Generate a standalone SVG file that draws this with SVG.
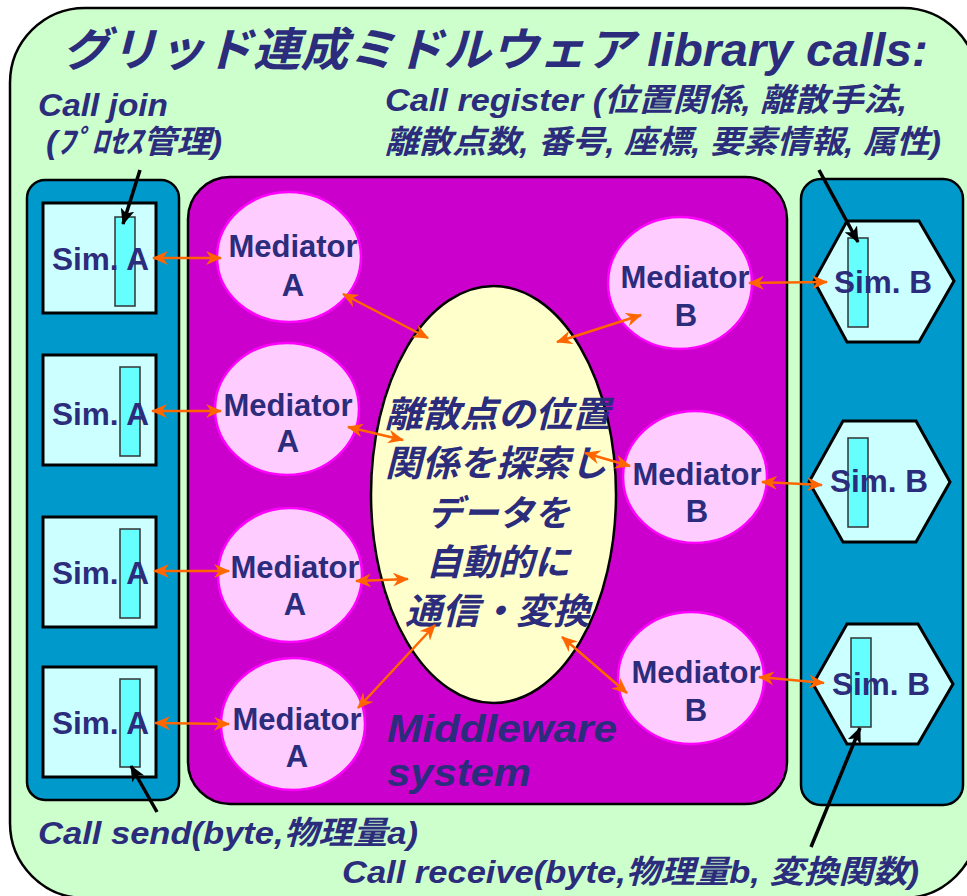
<svg xmlns="http://www.w3.org/2000/svg" width="967" height="896" viewBox="0 0 967 896">
<style>
.t{fill:#2C2C7C;font-family:"Liberation Sans","Noto Sans CJK JP",sans-serif;font-weight:bold}
.i{font-style:italic}
.sim{fill:#CCFFFF;stroke:#000;stroke-width:3}
.bar{fill:#66FFFF;stroke:#333;stroke-width:1.5}
.panel{fill:#0099CC;stroke:#000;stroke-width:2.5}
.med{fill:#FFCCFF;stroke:#FF00FF;stroke-width:2.5}
.oa{stroke:#FF6600;stroke-width:2.5;fill:none;marker-start:url(#oah);marker-end:url(#oah)}
.ba{stroke:#000;stroke-width:3.5;fill:none;marker-end:url(#bah)}
.m{font-size:31px;text-anchor:middle}
.s{font-size:31px}
.c{font-size:32px}
.j{font-size:36px}
</style>
<defs>
<marker id="oah" viewBox="0 0 16 14" refX="15" refY="7" markerWidth="16" markerHeight="14" markerUnits="userSpaceOnUse" orient="auto-start-reverse"><path d="M0,0 L16,7 L0,14 L5,7 z" fill="#FF6600"/></marker>
<marker id="bah" viewBox="0 0 16 14" refX="15" refY="7" markerWidth="16" markerHeight="14" markerUnits="userSpaceOnUse" orient="auto"><path d="M0,0 L16,7 L0,14 L4,7 z" fill="#000"/></marker>
</defs>
<g id="background">
<rect x="10" y="8" width="968" height="890" rx="75" fill="#CCFFCC" stroke="#000" stroke-width="2.5"/>
<text class="t i" x="62" y="66" font-size="46" textLength="866" lengthAdjust="spacingAndGlyphs">グリッド連成ミドルウェア library calls:</text>
</g>
<g id="labels">
<text class="t i c" x="38" y="116" textLength="130" lengthAdjust="spacingAndGlyphs">Call join</text>
<text class="t i c" x="46" y="153" textLength="176" lengthAdjust="spacingAndGlyphs">(ﾌﾟﾛｾｽ管理)</text>
<text class="t i c" x="385" y="111" textLength="522" lengthAdjust="spacingAndGlyphs">Call register (位置関係, 離散手法,</text>
<text class="t i c" x="385" y="153" textLength="556" lengthAdjust="spacingAndGlyphs">離散点数, 番号, 座標, 要素情報, 属性)</text>
<text class="t i c" x="38" y="844" textLength="380" lengthAdjust="spacingAndGlyphs">Call send(byte,物理量a)</text>
<text class="t i c" x="342" y="883" textLength="577" lengthAdjust="spacingAndGlyphs">Call receive(byte,物理量b, 変換関数)</text>
</g>
<g id="panel-a">
<rect class="panel" x="27" y="180" width="152" height="620" rx="18"/>
</g>
<g id="sim-a1"><rect class="sim" x="43" y="203" width="113" height="110"/><rect class="bar" x="115" y="217" width="20" height="89"/><text class="t s" x="52" y="270" textLength="97" lengthAdjust="spacingAndGlyphs">Sim. A</text></g>
<g id="sim-a2"><rect class="sim" x="43" y="355" width="113" height="110"/><rect class="bar" x="120" y="367" width="20" height="89"/><text class="t s" x="52" y="425" textLength="97" lengthAdjust="spacingAndGlyphs">Sim. A</text></g>
<g id="sim-a3"><rect class="sim" x="43" y="517" width="113" height="110"/><rect class="bar" x="120" y="529" width="20" height="89"/><text class="t s" x="52" y="584" textLength="97" lengthAdjust="spacingAndGlyphs">Sim. A</text></g>
<g id="sim-a4"><rect class="sim" x="43" y="667" width="113" height="110"/><rect class="bar" x="120" y="679" width="20" height="88"/><text class="t s" x="52" y="734" textLength="97" lengthAdjust="spacingAndGlyphs">Sim. A</text></g>
<g id="panel-b">
<rect class="panel" x="801" y="179" width="162" height="626" rx="20"/>
</g>
<g id="sim-b1"><polygon class="sim" points="847,221 919,221 954,281 919,342 847,342 814,281"/><rect class="bar" x="848" y="238" width="20" height="89"/><text class="t s" x="834" y="293" textLength="98" lengthAdjust="spacingAndGlyphs">Sim. B</text></g>
<g id="sim-b2"><polygon class="sim" points="843,421 916,421 950,482 916,542 843,542 809,482"/><rect class="bar" x="848" y="438" width="20" height="89"/><text class="t s" x="830" y="492" textLength="98" lengthAdjust="spacingAndGlyphs">Sim. B</text></g>
<g id="sim-b3"><polygon class="sim" points="847,624 918,624 953,684 918,744 847,744 813,684"/><rect class="bar" x="851" y="638" width="20" height="89"/><text class="t s" x="832" y="695" textLength="98" lengthAdjust="spacingAndGlyphs">Sim. B</text></g>
<g id="middleware">
<rect x="188" y="177" width="599" height="627" rx="42" fill="#CC00CC" stroke="#000" stroke-width="2.5"/>
<text class="t i" x="387" y="742" font-size="38" textLength="230" lengthAdjust="spacingAndGlyphs">Middleware</text>
<text class="t i" x="387" y="786" font-size="38" textLength="144" lengthAdjust="spacingAndGlyphs">system</text>
</g>
<g id="med-a1"><ellipse class="med" cx="289" cy="257" rx="72" ry="65"/><text class="t m" x="293" y="257">Mediator</text><text class="t m" x="293" y="296">A</text></g>
<g id="med-a2"><ellipse class="med" cx="287" cy="409" rx="72" ry="66"/><text class="t m" x="288" y="416">Mediator</text><text class="t m" x="288" y="452">A</text></g>
<g id="med-a3"><ellipse class="med" cx="290" cy="575" rx="72" ry="67"/><text class="t m" x="295" y="578">Mediator</text><text class="t m" x="295" y="615">A</text></g>
<g id="med-a4"><ellipse class="med" cx="293" cy="724" rx="72" ry="66"/><text class="t m" x="297" y="730">Mediator</text><text class="t m" x="297" y="767">A</text></g>
<g id="med-b1"><ellipse class="med" cx="680" cy="283" rx="72" ry="66"/><text class="t m" x="685" y="288">Mediator</text><text class="t m" x="686" y="326">B</text></g>
<g id="med-b2"><ellipse class="med" cx="695" cy="477" rx="72" ry="66"/><text class="t m" x="697" y="485">Mediator</text><text class="t m" x="697" y="522">B</text></g>
<g id="med-b3"><ellipse class="med" cx="691" cy="678" rx="73" ry="66"/><text class="t m" x="696" y="683">Mediator</text><text class="t m" x="696" y="721">B</text></g>
<g id="core">
<ellipse cx="493.5" cy="494.5" rx="122.5" ry="208.5" fill="#FFFFCC" stroke="#000" stroke-width="2.5"/>
<text class="t i j" x="385" y="427" textLength="225" lengthAdjust="spacingAndGlyphs">離散点の位置</text>
<text class="t i j" x="385" y="476" textLength="222" lengthAdjust="spacingAndGlyphs">関係を探索し</text>
<text class="t i j" x="427" y="526" textLength="143" lengthAdjust="spacingAndGlyphs">データを</text>
<text class="t i j" x="426" y="575" textLength="144" lengthAdjust="spacingAndGlyphs">自動的に</text>
<text class="t i j" x="405" y="624" textLength="185" lengthAdjust="spacingAndGlyphs">通信・変換</text>
</g>
<g id="connectors">
<line class="oa" x1="153" y1="258" x2="221" y2="258"/>
<line class="oa" x1="343" y1="294" x2="428" y2="338"/>
<line class="oa" x1="152" y1="411" x2="221" y2="411"/>
<line class="oa" x1="348" y1="427" x2="403" y2="440"/>
<line class="oa" x1="154" y1="571" x2="229" y2="571"/>
<line class="oa" x1="356" y1="581" x2="408" y2="579"/>
<line class="oa" x1="155" y1="723" x2="229" y2="724"/>
<line class="oa" x1="358" y1="708" x2="435" y2="625"/>
<line class="oa" x1="557" y1="342" x2="641" y2="315"/>
<line class="oa" x1="749" y1="283" x2="827" y2="282"/>
<line class="oa" x1="585" y1="453" x2="630" y2="466"/>
<line class="oa" x1="762" y1="482" x2="822" y2="485"/>
<line class="oa" x1="562" y1="637" x2="627" y2="693"/>
<line class="oa" x1="759" y1="677" x2="824" y2="683"/>
<line class="ba" x1="140" y1="170" x2="123" y2="224"/>
<line class="ba" x1="819" y1="170" x2="858" y2="242"/>
<line class="ba" x1="157" y1="812" x2="131" y2="766"/>
<line class="ba" x1="811" y1="847" x2="860" y2="728"/>
</g>
</svg>
